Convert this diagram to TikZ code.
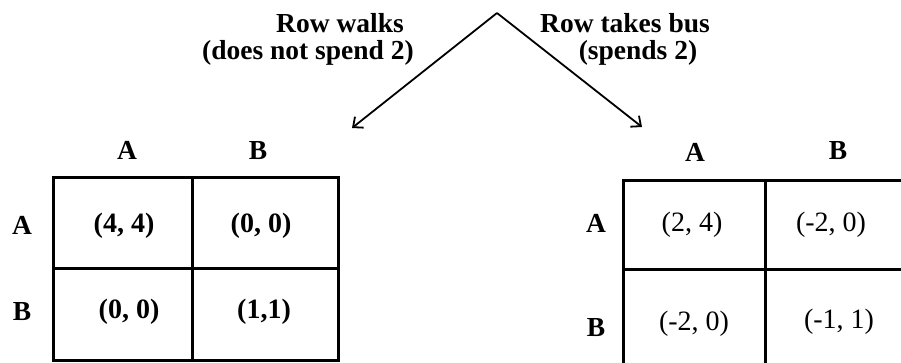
\documentclass[tikz,border=0pt]{standalone}
\usepackage{fontspec}
\setmainfont{Liberation Serif}
\usetikzlibrary{arrows.meta}
\begin{document}
\begin{tikzpicture}[
  x=1pt, y=-1pt,
  every node/.style={inner sep=0pt, anchor=base, font=\fontsize{28}{32}\selectfont},
  lbl/.style={font=\fontsize{27.5}{32}\selectfont\bfseries},
  pay/.style={font=\fontsize{28}{32}\selectfont},
  heavy pay/.style={font=\fontsize{28}{32}\selectfont\bfseries},
  grid line/.style={line width=3pt},
  move/.style={line width=1.8pt, -{Straight Barb[length=8pt,width=14pt]}}
]
  \clip (0,0) rectangle (901,363);

  % Root of the game
  \coordinate (root) at (497,13);
  \coordinate (walk) at (352,128);
  \coordinate (bus) at (642,127);
  \draw[move] (root) -- (walk);
  \draw[move] (root) -- (bus);
  \node[lbl] (walk1) at (340,33) {Row walks};
  \node[lbl] (walk2) at (308,60) {(does not spend 2)};
  \node[lbl] (bus1) at (625,33) {Row takes bus};
  \node[lbl] (bus2) at (638,60) {(spends 2)};

  % Row walks
  \draw[grid line] (53,178) rectangle (338,360);
  \draw[grid line] (192,178) -- (192,360);
  \draw[grid line] (53,268) -- (338,268);
  \node[lbl] (wcA) at (127,160) {A};
  \node[lbl] (wcB) at (258,160) {B};
  \node[lbl] (wrA) at (22,235) {A};
  \node[lbl] (wrB) at (22,320) {B};
  \node[heavy pay] (wAA) at (124,233) {(4, 4)};
  \node[heavy pay] (wAB) at (261,233) {(0, 0)};
  \node[heavy pay] (wBA) at (129,318) {(0, 0)};
  \node[heavy pay] (wBB) at (264,318) {(1,1)};

  % Row takes bus
  \draw[grid line] (623,181) rectangle (907,381);
  \draw[grid line] (765,181) -- (765,381);
  \draw[grid line] (623,269) -- (907,269);
  \node[lbl] (bcA) at (695,162) {A};
  \node[lbl] (bcB) at (838,160) {B};
  \node[lbl] (brA) at (596,233) {A};
  \node[lbl] (brB) at (596,336) {B};
  \node[pay] (bAA) at (692,232) {(2, 4)};
  \node[pay] (bAB) at (831,232) {(-2, 0)};
  \node[pay] (bBA) at (694,330) {(-2, 0)};
  \node[pay] (bBB) at (839,328) {(-1, 1)};

\end{tikzpicture}
\end{document}
